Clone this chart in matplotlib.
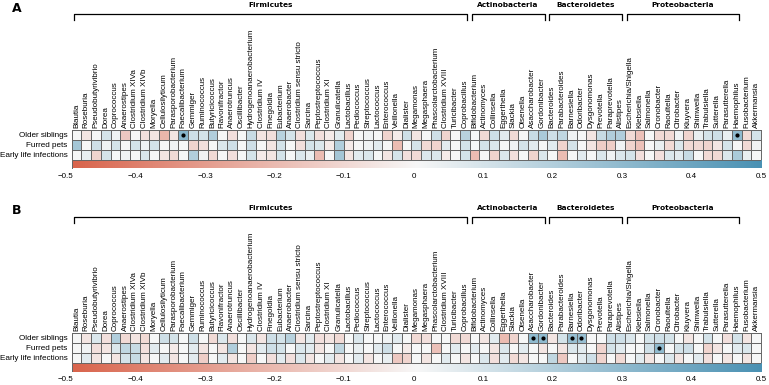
import numpy as np
import matplotlib
matplotlib.use("Agg")
import matplotlib.pyplot as plt
from matplotlib.colors import LinearSegmentedColormap
from matplotlib.transforms import blended_transform_factory
from matplotlib.patches import Rectangle

plt.rcParams["font.family"] = ["Liberation Sans", "DejaVu Sans"]

# --------------------

genera = ["Blautia", "Roseburia", "Pseudobutyrivibrio", "Dorea", "Coprococcus", "Anaerostipes",
          "Clostridium XIVa", "Clostridium XIVb", "Moryella", "Cellulosilyticum", "Parasporobacterium",
          "Faecalibacterium", "Gemmiger", "Ruminococcus", "Butyricicoccus", "Flavonifractor",
          "Anaerotruncus", "Oscillibacter", "Hydrogenoanaerobacterium", "Clostridium IV", "Finegoldia",
          "Eubacterium", "Anaerobacter", "Clostridium sensu stricto", "Sarcina", "Peptostreptococcus",
          "Clostridium XI", "Granulicatella", "Lactobacillus", "Pediococcus", "Streptococcus",
          "Lactococcus", "Enterococcus", "Veillonella", "Dialister", "Megamonas", "Megasphaera",
          "Phascolarctobacterium", "Clostridium XVIII", "Turicibacter", "Coprobacillus",
          "Bifidobacterium", "Actinomyces", "Collinsella", "Eggerthella", "Slackia", "Olsenella",
          "Asaccharobacter", "Gordonibacter",
          "Bacteroides", "Parabacteroides", "Barnesiella", "Odoribacter", "Dysgonomonas", "Prevotella",
          "Paraprevotella", "Alistipes",
          "Escherichia/Shigella", "Klebsiella", "Salmonella", "Cronobacter", "Raoultella", "Citrobacter",
          "Kluyvera", "Shimwella", "Trabulsiella", "Sutterella", "Parasutterella", "Haemophilus",
          "Fusobacterium", "Akkermansia"]

rows = ["Older siblings", "Furred pets", "Early life infections"]

# phylum name, first genus, last genus
phyla = [("Firmicutes", "Blautia", "Coprobacillus"),
         ("Actinobacteria", "Bifidobacterium", "Gordonibacter"),
         ("Bacteroidetes", "Bacteroides", "Alistipes"),
         ("Proteobacteria", "Escherichia/Shigella", "Haemophilus")]

# Panel A correlations
a_siblings = [0.0, -0.06, 0.0, 0.1, 0.02, -0.16, 0.0, -0.08, -0.06, -0.22, -0.06, 0.32, 0.12, 0.1,
              0.2, 0.0, -0.08, 0.0, 0.14, -0.06, -0.08, 0.18, 0.1, -0.08, 0.08, -0.08, -0.04, 0.06,
              -0.12, 0.0, 0.02, 0.0, -0.12, -0.04, 0.12, -0.06, 0.0, 0.12, -0.12, 0.0, 0.18,
              0.0, -0.1, 0.12, 0.06, -0.1, 0.0, 0.14, 0.22,
              0.12, 0.16, 0.02, 0.0, -0.06, 0.14, 0.2, 0.2,
              -0.1, -0.18, 0.0, -0.1, -0.1, 0.02, -0.12, 0.04, 0.1, 0.12, 0.04, 0.3,
              -0.1, 0.1]
a_pets = [0.24, 0.0, 0.12, 0.02, 0.1, 0.0, 0.1, 0.02, 0.1, 0.0, 0.02, 0.0, -0.12, -0.08,
          0.0, 0.08, 0.12, 0.0, 0.12, 0.0, -0.06, 0.1, 0.0, -0.08, 0.1, 0.08, -0.04, 0.2,
          -0.04, 0.0, 0.02, 0.06, 0.0, -0.2, 0.0, 0.1, -0.1, -0.12, 0.06, 0.0, 0.1,
          0.0, 0.1, 0.08, 0.0, 0.02, 0.1, 0.06, 0.0,
          0.06, -0.12, 0.1, 0.0, -0.06, -0.14, -0.14, 0.02,
          -0.12, -0.18, 0.0, 0.04, -0.1, 0.08, -0.1, -0.1, -0.12, -0.06, 0.1, 0.0,
          -0.1, 0.02]
a_infections = [0.0, 0.04, -0.12, 0.1, 0.0, 0.02, 0.0, 0.08, 0.0, -0.06, -0.1, 0.0, 0.2, 0.02,
                -0.1, 0.0, -0.08, 0.0, 0.1, -0.04, -0.06, 0.1, 0.0, 0.08, 0.04, -0.2, 0.0, 0.24,
                -0.06, 0.06, 0.08, 0.0, -0.06, 0.1, -0.08, -0.1, 0.08, 0.08, -0.04, 0.0, 0.1,
                -0.2, 0.0, -0.12, 0.08, -0.08, 0.0, -0.12, 0.08,
                0.0, -0.2, 0.0, 0.06, 0.0, 0.08, 0.02, 0.08,
                0.1, -0.08, 0.0, -0.08, 0.08, 0.06, 0.14, 0.0, -0.1, -0.1, 0.08, 0.22,
                0.04, 0.0]
a_sig = [("Older siblings", "Faecalibacterium"), ("Older siblings", "Haemophilus")]

# Panel B correlations
b_siblings = [0.0, -0.06, 0.08, -0.08, 0.2, -0.1, -0.06, -0.1, 0.0, 0.12, 0.1, 0.0, 0.12, 0.0,
              -0.1, 0.08, -0.08, 0.0, 0.08, -0.06, 0.12, 0.1, 0.18, -0.06, 0.06, -0.08, -0.06,
              -0.1, 0.0, 0.08, 0.0, 0.0, 0.02, 0.06, 0.0, -0.1, -0.08, 0.0, 0.0, -0.1, -0.1,
              0.0, -0.06, 0.06, -0.2, -0.12, 0.0, 0.3, 0.3,
              -0.06, 0.1, 0.28, 0.28, 0.0, 0.0, 0.12, 0.12,
              0.08, 0.0, 0.1, 0.12, 0.1, 0.0, -0.06, 0.0, 0.1, 0.0, -0.08, 0.1,
              -0.06, 0.0]
b_pets = [0.0, 0.02, -0.08, -0.06, 0.08, 0.16, 0.14, -0.08, 0.06, 0.0, -0.04, 0.0, 0.06, -0.06,
          0.0, -0.06, 0.2, 0.0, -0.06, 0.06, 0.12, 0.1, 0.0, 0.08, 0.06, -0.06, 0.0, 0.16,
          0.0, 0.04, 0.0, 0.06, 0.12, 0.0, -0.04, 0.0, 0.0, -0.18, 0.0, 0.06, 0.0,
          0.06, 0.0, -0.06, 0.08, 0.0, 0.06, 0.0, -0.06,
          0.0, -0.06, 0.08, 0.06, 0.0, -0.12, 0.1, 0.06,
          0.0, 0.0, 0.12, 0.3, 0.0, 0.1, 0.12, 0.0, -0.12, -0.06, 0.0, 0.06,
          0.08, 0.0]
b_infections = [0.0, 0.06, -0.06, 0.0, -0.06, 0.1, 0.14, -0.06, 0.0, 0.06, -0.06, 0.0, 0.06, -0.14,
                0.0, 0.06, -0.06, 0.0, -0.14, 0.0, -0.08, 0.06, -0.08, 0.08, -0.06, 0.0, 0.06,
                -0.06, 0.0, 0.06, -0.06, 0.0, 0.04, -0.16, -0.12, 0.0, -0.06, 0.0, 0.06, 0.0, -0.06,
                0.0, 0.08, -0.08, 0.06, -0.1, -0.06, 0.0, 0.0,
                0.16, -0.16, 0.0, 0.06, 0.12, -0.12, 0.0, -0.1,
                0.0, 0.06, -0.06, 0.0, 0.08, -0.06, 0.0, 0.06, -0.08, 0.0, -0.06, 0.0,
                -0.06, 0.0]
b_sig = [("Older siblings", "Asaccharobacter"), ("Older siblings", "Gordonibacter"),
         ("Older siblings", "Barnesiella"), ("Older siblings", "Odoribacter"),
         ("Furred pets", "Cronobacter")]

cbar_ticks = [-0.5, -0.4, -0.3, -0.2, -0.1, 0, 0.1, 0.2, 0.3, 0.4, 0.5]

# ---------------------

W, H = 769, 385
cmap = LinearSegmentedColormap.from_list("rb", ["#d9644c", "#f7f7f7", "#4a91b3"])
grid_col = "#666666"

fig = plt.figure(figsize=(W / 100, H / 100), dpi=100)


def px_axes(x0, y0, x1, y1):
    return fig.add_axes([x0 / W, 1 - y1 / H, (x1 - x0) / W, (y1 - y0) / H])


def draw_panel(letter, values, sig, dy):
    ax = px_axes(71.7, 130 + dy, 761, 159.5 + dy)
    data = np.array(values)
    ax.pcolormesh(data, cmap=cmap, vmin=-0.5, vmax=0.5, edgecolors=grid_col, linewidth=0.55)
    ax.set_xlim(0, len(genera))
    ax.set_ylim(3, 0)
    ax.xaxis.tick_top()
    ax.set_xticks(np.arange(len(genera)) + 0.5)
    ax.set_xticklabels(genera, rotation=90, fontsize=5.8)
    ax.set_yticks(np.arange(3) + 0.5)
    ax.set_yticklabels(rows, fontsize=5.9)
    ax.tick_params(length=0, pad=1.5)
    ax.tick_params(axis="y", pad=3)
    for s in ax.spines.values():
        s.set_color(grid_col)
        s.set_linewidth(0.7)

    # significant cells
    for r, g in sig:
        ax.plot(genera.index(g) + 0.5, rows.index(r) + 0.5, "o", color="black", ms=2)

    # phylum brackets
    tr = blended_transform_factory(ax.transData, fig.transFigure)
    y_line = 1 - (14 + dy) / H
    y_tick = 1 - (20 + dy) / H
    for name, g0, g1 in phyla:
        x0 = genera.index(g0) + 0.2
        x1 = genera.index(g1) + 1 - 0.3
        ax.plot([x0, x0, x1, x1], [y_tick, y_line, y_line, y_tick], color="black",
                lw=0.9, transform=tr, clip_on=False)
        ax.text((x0 + x1) / 2, 1 - (5 + dy) / H, name, transform=tr, ha="center", va="center",
                fontsize=5.3, fontweight="bold", family="DejaVu Sans")

    fig.text(12 / W, 1 - (8 + dy) / H, letter, fontsize=9, fontweight="bold",
             family="DejaVu Sans", ha="left", va="center")

    # colour bar
    cax = px_axes(66, 159.5 + dy, 761, 168.5 + dy)
    grad = np.linspace(-0.5, 0.5, 256).reshape(1, -1)
    left = -0.5 + 5.7 / 695
    cax.imshow(grad, extent=[left, 0.5, 0, 1], aspect="auto", cmap=cmap, vmin=-0.5, vmax=0.5)
    cax.add_patch(Rectangle((left, 0), 0.5 - left, 1, fill=False, ec=grid_col, lw=0.7))
    cax.set_xlim(-0.5, 0.5)
    cax.set_ylim(0, 1)
    cax.set_xticks(cbar_ticks)
    cax.set_xticklabels([("%g" % t).replace("-", "\u2212") for t in cbar_ticks], fontsize=5.8)
    cax.set_yticks([])
    cax.tick_params(length=0, pad=3.5)
    for s in cax.spines.values():
        s.set_visible(False)


draw_panel("A", [a_siblings, a_pets, a_infections], a_sig, 0)
draw_panel("B", [b_siblings, b_pets, b_infections], b_sig, 203)

plt.savefig("out.png", dpi=100)
